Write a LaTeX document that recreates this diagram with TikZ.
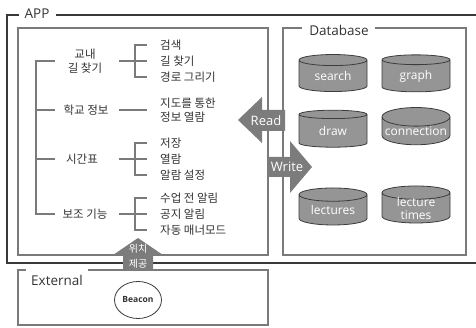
\documentclass[tikz,border=0pt]{standalone}
\usepackage{fontspec}
\setmainfont{Open Sans}
\newfontfamily\kor{Noto Sans CJK KR}
\usetikzlibrary{arrows,positioning,shapes}
\definecolor{frameline}{HTML}{7A7A7A}
\definecolor{outerline}{HTML}{37393B}
\definecolor{dbfill}{HTML}{959595}
\definecolor{dbline}{HTML}{3C3C3C}
\definecolor{arrowgray}{HTML}{7C7C7C}
\definecolor{labeltext}{HTML}{333333}
\tikzstyle{frame}=[draw=frameline, line width=1.4pt]
\tikzstyle{outer}=[draw=outerline, line width=1.8pt]
\tikzstyle{branch}=[draw=frameline, line width=1.8pt]
\tikzstyle{title}=[font=\fontsize{13.5}{15}\selectfont, text=labeltext, inner sep=0pt]
\tikzstyle{group}=[font=\kor\fontsize{11.5}{14}\selectfont, text=labeltext, align=center, inner sep=0pt]
\tikzstyle{leaf}=[group, anchor=west, align=left]
\tikzstyle{db}=[cylinder, shape border rotate=90, aspect=0.3, draw=dbline, fill=dbfill, line width=0.8pt, minimum width=68pt, minimum height=37pt, text=white, font=\fontsize{12}{13}\selectfont, align=center, inner sep=0pt]
\tikzstyle{dbtext}=[text=white, font=\fontsize{12}{13}\selectfont, align=center, inner sep=0pt]
\tikzstyle{bigarrow}=[fill=arrowgray]
\tikzstyle{arrowtext}=[text=white, font=\fontsize{13}{15}\selectfont, inner sep=0pt]

\begin{document}
\begin{tikzpicture}[x=1pt, y=-1pt]
    \useasboundingbox (0,0) rectangle (476,328);

    % frames
    \node [title] (app) at (37,14) {APP};
    \draw [outer] (19,15) -- (7,15) -- (7,263) -- (476,263);
    \draw [outer] (56,15) -- (476,15);
    \draw [frame] (18,28) rectangle (268,255);
    \node [title] (database) at (339,30) {Database};
    \draw [frame] (302,28) -- (283,28) -- (283,255) -- (466,255) -- (466,28) -- (375,28);
    \node [title] (external) at (57,280) {External};
    \draw [frame] (26,270) -- (18,270) -- (18,325) -- (268,325) -- (268,270) -- (88,270);

    % menu tree
    \node [group] (campus) at (85,61) {교내\\길 찾기};
    \node [group] (info) at (86,110) {학교 정보};
    \node [group] (timetable) at (82,159) {시간표};
    \node [group] (extra) at (85,214) {보조 기능};

    \node [leaf] (k1) at (160,45) {검색};
    \node [leaf] (k2) at (160,61) {길 찾기};
    \node [leaf] (k3) at (160,77) {경로 그리기};
    \node [leaf] (m1) at (160,110) {지도를 통한\\정보 열람};
    \node [leaf] (t1) at (160,143) {저장};
    \node [leaf] (t2) at (160,159) {열람};
    \node [leaf] (t3) at (160,175) {알람 설정};
    \node [leaf] (s1) at (160,198) {수업 전 알림};
    \node [leaf] (s2) at (160,214) {공지 알림};
    \node [leaf] (s3) at (160,230) {자동 매너모드};

    \coordinate (stem) at (36,0);
    \coordinate (stub) at (55,0);
    \coordinate (join) at (119,0);
    \coordinate (fork) at (135,0);
    \coordinate (twig) at (147,0);

    \draw [branch] (campus -| stub) -- (campus -| stem) -- (extra -| stem) -- (extra -| stub);
    \foreach \g in {info,timetable} \draw [branch] (\g -| stem) -- (\g -| stub);
    \foreach \g in {campus,info,timetable,extra} \draw [branch] (\g -| join) -- (\g -| twig);
    \foreach \a/\b in {k1/k3,t1/t3,s1/s3} \draw [branch] (\a -| twig) -- (\a -| fork) -- (\b -| fork) -- (\b -| twig);

    % database
    \node [db] (search) at (333,76) {search};
    \node [db] (graph) at (416,76) {graph};
    \node [db] (draw) at (333,131) {draw};
    \node [db] (connection) at (416,131) {connection};
    \node [db] (lectures) at (333,210) {lectures};
    \node [db] (lecturetimes) at (416,208) {\phantom{lectures}};
    \node [dbtext] (lecturetimestext) at (416,209) {lecture\\times};

    % read / write / location
    \fill [bigarrow] (238,120) -- (262,97) -- (262,110) -- (285,110) -- (285,131) -- (262,131) -- (262,143) -- cycle;
    \node [arrowtext] (read) at (266,121) {Read};
    \fill [bigarrow] (312,167) -- (290,141) -- (290,157) -- (268,157) -- (268,177) -- (290,177) -- (290,193) -- cycle;
    \node [arrowtext] (write) at (287,167) {Write};
    \fill [bigarrow] (138,238) -- (163,255) -- (153,255) -- (153,270) -- (123,270) -- (123,255) -- (113,255) -- cycle;
    \node [arrowtext, font=\kor\fontsize{10}{15}\selectfont, align=center] (locate) at (138,256) {위치\\제공};

    % external
    \node [draw=dbline, ellipse, line width=0.8pt, inner sep=0pt, minimum width=47pt, minimum height=37pt, font=\bfseries\fontsize{8.5}{10}\selectfont, text=labeltext] (beacon) at (138,300) {Beacon};
\end{tikzpicture}
\end{document}
